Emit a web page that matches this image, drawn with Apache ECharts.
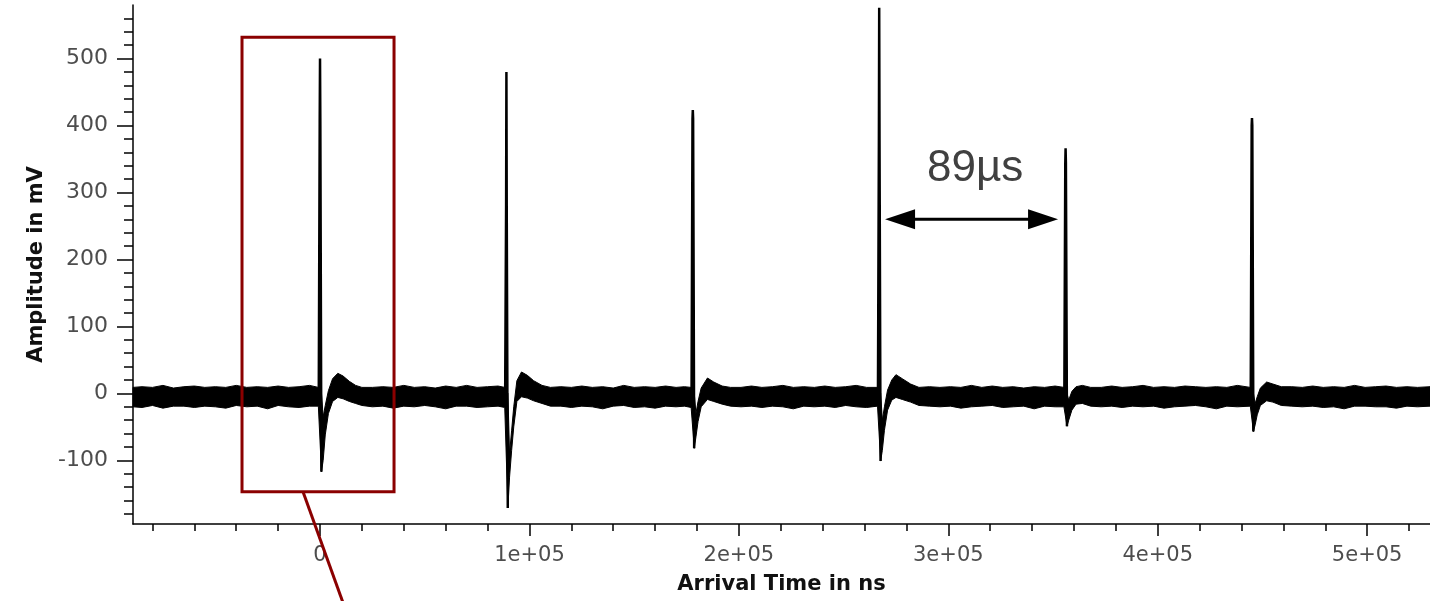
<!DOCTYPE html>
<html>
<head>
<meta charset="utf-8">
<script src="https://cdn.jsdelivr.net/npm/echarts@6/dist/echarts.min.js"></script>
<style>
  html, body { margin: 0; padding: 0; background: #fff; }
  #chart { width: 1430px; height: 601px; }
</style>
</head>
<body>
<div id="chart"></div>
<script>
// pulses (ns, mV)
const pulseTime = [0, 89000, 178000, 267000, 356000, 445000];
const pulsePeak = [500, 480, 423, 576, 366, 411];
const pulseKnee = [405, 280, 410, 378, 344, 400];
const pulseDip  = [-117, -171, -82, -101, -49, -57];

// noise band of the trace: time, lower edge, upper edge
const bandTime = [
  -89300,-85000,-80000,-75000,-70000,-65000,-60000,-55000,-50000,-45000,-40000,-35000,-30000,-25000,-20000,-15000,-10000,-5000,-800,
  700,1500,2500,4000,6000,8500,11000,14000,17000,20000,
  25000,30000,35000,40000,45000,50000,55000,60000,65000,70000,75000,80000,85000,88200,
  89700,90500,91500,92500,94000,96200,99000,102000,106000,110000,
  115000,120000,125000,130000,135000,140000,145000,150000,155000,160000,165000,170000,174000,177200,
  178700,179500,180500,182000,185000,188000,192000,196000,
  201000,206000,211000,216000,221000,226000,231000,236000,241000,246000,251000,256000,261000,266200,
  267700,268500,269500,271000,273000,275000,278000,282000,286000,
  291000,296000,301000,306000,311000,316000,321000,326000,331000,336000,341000,346000,351000,355200,
  356700,357500,359000,361000,364000,368000,
  373000,378000,383000,388000,393000,398000,403000,408000,413000,418000,423000,428000,433000,438000,444200,
  445700,446500,447500,449000,452000,455000,459000,
  464000,469000,474000,479000,484000,489000,494000,499000,504000,509000,514000,519000,524000,530000
];
const bandLow = [
  -20,-21,-18,-22,-19,-19,-21,-19,-20,-22,-18,-20,-19,-23,-18,-20,-21,-19,-19,
  -117,-100,-62,-30,-12,-6,-8,-12,-15,-18,
  -20,-19,-22,-19,-20,-18,-20,-23,-19,-19,-21,-20,-19,-21,
  -171,-125,-85,-50,-12,-5,-7,-11,-15,-19,
  -19,-21,-19,-20,-23,-19,-18,-21,-20,-22,-19,-20,-19,-21,
  -82,-65,-42,-20,-9,-12,-16,-19,
  -20,-19,-21,-19,-20,-23,-19,-20,-19,-21,-18,-20,-21,-19,
  -101,-85,-55,-25,-10,-6,-9,-13,-18,
  -19,-20,-19,-22,-20,-19,-18,-21,-20,-19,-23,-19,-20,-20,
  -49,-40,-25,-16,-15,-19,
  -20,-19,-21,-19,-20,-19,-22,-20,-19,-18,-20,-23,-19,-20,-19,
  -57,-47,-32,-18,-11,-13,-18,
  -19,-20,-19,-21,-20,-23,-19,-19,-20,-20,-22,-19,-20,-19
];
const bandHigh = [
  9,10,9,12,8,10,11,9,10,9,12,9,10,9,11,9,10,12,9,
  0,-35,-18,4,22,30,26,18,12,9,
  9,10,9,12,9,10,8,11,9,12,9,10,11,9,
  0,-90,-55,-20,19,32,27,19,12,9,
  10,9,11,9,10,8,12,9,10,9,11,9,10,9,
  0,-30,-12,8,23,17,11,9,
  9,11,9,10,12,9,10,9,11,9,10,12,9,9,
  0,-40,-20,5,20,28,22,14,9,
  10,9,10,9,12,9,11,9,10,8,10,9,11,9,
  0,-10,3,10,12,9,
  9,11,9,10,12,9,10,9,11,10,9,10,9,12,9,
  0,-15,-5,8,17,14,10,
  10,9,11,9,10,9,12,9,10,11,9,10,9,10
];

// axes
const xMajorTicks = [0, 100000, 200000, 300000, 400000, 500000];
const yMajorTicks = [-100, 0, 100, 200, 300, 400, 500];
const xMinorTicks = [];
for (let v = -80000; v <= 520000; v += 20000) xMinorTicks.push(v);
const yMinorTicks = [];
for (let v = -180; v <= 560; v += 20) yMinorTicks.push(v);

const xMin = -89300, xMax = 530000;
const yMin = -195, yMax = 580;

const bandData = bandTime.map((t, i) => [t, bandLow[i], bandHigh[i]]);
const spikeData = [];
pulseTime.forEach((t, i) => {
  spikeData.push([t - 600, -5], [t - 150, pulseKnee[i]], [t, pulsePeak[i]],
                 [t + 150, pulseKnee[i]], [t + 650, pulseDip[i]], [t + 700, null]);
});

const font = 'DejaVu Sans';
const black = { color: '#000', width: 1.5 };

const chart = echarts.init(document.getElementById('chart'));
chart.setOption({
  animation: false,
  grid: { left: 133, right: 0, top: 5, bottom: 77 },
  xAxis: [{
    type: 'value', min: xMin, max: xMax,
    splitLine: { show: false },
    axisLine: { onZero: false, lineStyle: black },
    axisTick: { customValues: xMajorTicks, length: 12, lineStyle: black },
    axisLabel: {
      customValues: xMajorTicks, margin: 21, fontSize: 21, color: '#4d4d4d', fontFamily: font,
      formatter: v => v === 0 ? '0' : (v / 100000) + 'e+05'
    },
    name: 'Arrival Time in ns', nameLocation: 'middle', nameGap: 50,
    nameTextStyle: { fontSize: 21, fontWeight: 'bold', color: '#111', fontFamily: font }
  }, {
    type: 'value', min: xMin, max: xMax, position: 'bottom',
    splitLine: { show: false },
    axisLine: { show: false, onZero: false },
    axisLabel: { show: false },
    axisTick: { customValues: xMinorTicks, length: 7, lineStyle: black }
  }],
  yAxis: [{
    type: 'value', min: yMin, max: yMax,
    splitLine: { show: false },
    axisLine: { show: true, onZero: false, lineStyle: black },
    axisTick: { show: true, customValues: yMajorTicks, length: 16, lineStyle: black },
    axisLabel: { customValues: yMajorTicks, margin: 25, fontSize: 22, color: '#4d4d4d', fontFamily: font },
    name: 'Amplitude in mV', nameLocation: 'middle', nameGap: 85,
    nameTextStyle: { fontSize: 21, fontWeight: 'bold', color: '#111', fontFamily: font }
  }, {
    type: 'value', min: yMin, max: yMax, position: 'left',
    splitLine: { show: false },
    axisLine: { show: false, onZero: false },
    axisLabel: { show: false },
    axisTick: { show: true, customValues: yMinorTicks, length: 9, lineStyle: black }
  }],
  series: [{
    // whole noise band drawn as one polygon through the axis scales
    type: 'custom',
    data: bandData,
    encode: { x: 0, y: [1, 2] },
    renderItem: (params, api) => {
      if (params.dataIndex !== 0) return null;
      const upper = bandData.map(d => api.coord([d[0], d[2]]));
      const lower = bandData.map(d => api.coord([d[0], d[1]])).reverse();
      return {
        type: 'polygon',
        shape: { points: upper.concat(lower) },
        style: { fill: '#000', stroke: '#000', lineWidth: 1 }
      };
    }
  }, {
    type: 'line', data: spikeData, symbol: 'none', connectNulls: false,
    lineStyle: { width: 2.5, color: '#000' }
  }]
});

// annotations placed in data coordinates
const px = (x, y) => chart.convertToPixel({ seriesIndex: 1 }, [x, y]);
const boxA = px(-37250, 532), boxB = px(35340, -147);
const lead0 = px(-8120, -147), lead1 = px(13000, -330);
const arrL = px(269800, 260), arrR = px(352400, 260);
const label = px(312800, 336);
const red = '#8b0000';
const headLen = 30, headHalf = 10;

chart.setOption({
  graphic: [{
    type: 'rect', z: 100,
    shape: { x: boxA[0], y: boxA[1], width: boxB[0] - boxA[0], height: boxB[1] - boxA[1] },
    style: { fill: null, stroke: red, lineWidth: 3 }
  }, {
    type: 'line', z: 100,
    shape: { x1: lead0[0], y1: lead0[1], x2: lead1[0], y2: lead1[1] },
    style: { stroke: red, lineWidth: 3 }
  }, {
    type: 'line', z: 100,
    shape: { x1: arrL[0] + headLen - 4, y1: arrL[1], x2: arrR[0] - headLen + 4, y2: arrR[1] },
    style: { stroke: '#000', lineWidth: 3 }
  }, {
    type: 'polygon', z: 100,
    shape: { points: [[arrL[0], arrL[1]], [arrL[0] + headLen, arrL[1] - headHalf], [arrL[0] + headLen, arrL[1] + headHalf]] },
    style: { fill: '#000' }
  }, {
    type: 'polygon', z: 100,
    shape: { points: [[arrR[0], arrR[1]], [arrR[0] - headLen, arrR[1] - headHalf], [arrR[0] - headLen, arrR[1] + headHalf]] },
    style: { fill: '#000' }
  }, {
    type: 'text', z: 100,
    style: {
      text: '89µs', x: label[0], y: label[1], fontSize: 44, fontFamily: 'Liberation Sans',
      fill: '#404040', align: 'center', verticalAlign: 'middle'
    }
  }]
});
</script>
</body>
</html>
